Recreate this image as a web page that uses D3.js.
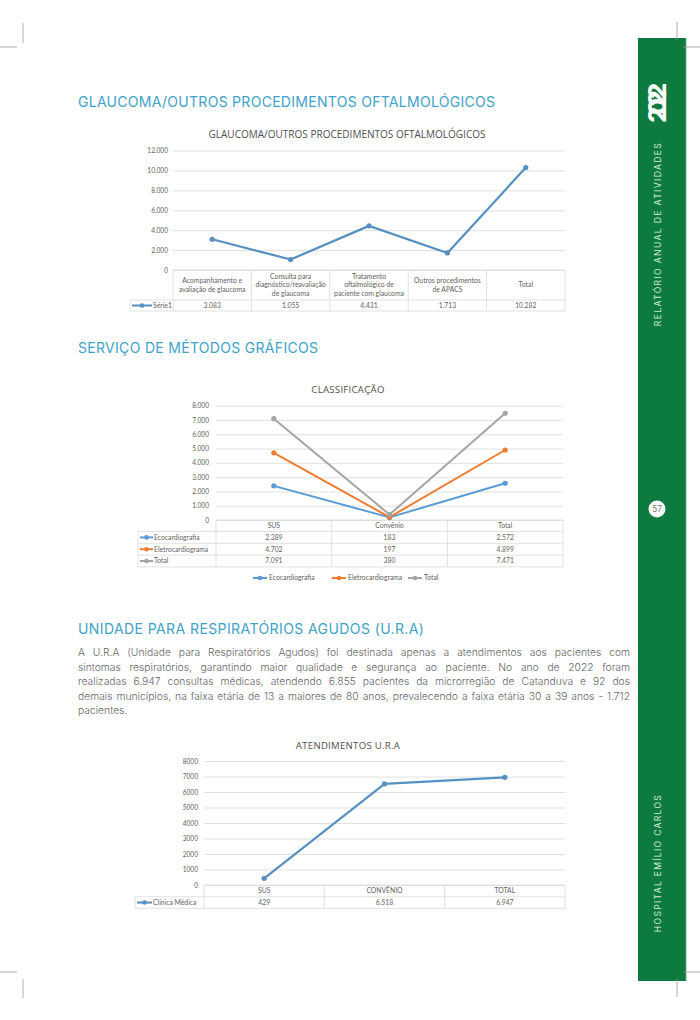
<!DOCTYPE html>
<html><head><meta charset="utf-8">
<script src="https://cdn.jsdelivr.net/npm/d3@7"></script>
<style>
html,body{margin:0;padding:0;background:#fff;}
svg{display:block;}
</style></head>
<body>
<svg id="page" width="700" height="1020"></svg>
<script>
// ---------------- DATA ----------------
const glaucomaTitle = "GLAUCOMA/OUTROS PROCEDIMENTOS OFTALMOLÓGICOS";
const glaucomaCategories = ["Acompanhamento e\navaliação de glaucoma","Consulta para\ndiagnóstico/reavaliação\nde glaucoma","Tratamento\noftalmológico de\npaciente com glaucoma","Outros procedimentos\nde APACS","Total"];
const glaucomaSeriesName = "Série1";
const glaucomaValues = [3083, 1055, 4431, 1713, 10282];
const glaucomaTicks = [0, 2000, 4000, 6000, 8000, 10000, 12000];

const classTitle = "CLASSIFICAÇÃO";
const classCategories = ["SUS", "Convênio", "Total"];
const classSeriesNames = ["Ecocardiografia", "Eletrocardiograma", "Total"];
const ecoValues = [2389, 183, 2572];
const eletroValues = [4702, 197, 4899];
const classTotalValues = [7091, 380, 7471];
const classTicks = [0, 1000, 2000, 3000, 4000, 5000, 6000, 7000, 8000];

const uraTitle = "ATENDIMENTOS U.R.A";
const uraCategories = ["SUS", "CONVÊNIO", "TOTAL"];
const uraSeriesName = "Clínica Médica";
const uraValues = [429, 6518, 6947];
const uraTicks = [0, 1000, 2000, 3000, 4000, 5000, 6000, 7000, 8000];

const headings = ["GLAUCOMA/OUTROS PROCEDIMENTOS OFTALMOLÓGICOS", "SERVIÇO DE MÉTODOS GRÁFICOS", "UNIDADE PARA RESPIRATÓRIOS AGUDOS (U.R.A)"];
const paragraphLines = [
 "A U.R.A (Unidade para Respiratórios Agudos) foi destinada apenas a atendimentos aos pacientes com",
 "sintomas respiratórios, garantindo maior qualidade e segurança ao paciente. No ano de 2022 foram",
 "realizadas 6.947 consultas médicas, atendendo 6.855 pacientes da microrregião de Catanduva e 92 dos",
 "demais municípios, na faixa etária de 13 a maiores de 80 anos, prevalecendo a faixa etária 30 a 39 anos - 1.712",
 "pacientes."
];
const sidebarYear = "2022";
const sidebarTop = "RELATÓRIO ANUAL DE ATIVIDADES";
const sidebarBottom = "HOSPITAL EMÍLIO CARLOS";
const pageNumber = "57";

// ---------------- HELPERS ----------------
const svg = d3.select("#page");
const ptBR = d3.formatLocale({decimal: ",", thousands: ".", grouping: [3], currency: ["R$", ""]});
const fmtDot = ptBR.format(",");
const fmtPlain = d3.format("d");
const CF = "Lato, 'Open Sans', sans-serif";
const TF = "'Open Sans', Lato, sans-serif";
const HF = "Inter, 'Open Sans', sans-serif";
const TXT = "#5f5f5f";
const GRID = "#d9d9d9";

function fitSpacing(sel, target) {
  const n = sel.text().length;
  const w = sel.node().getComputedTextLength();
  sel.attr("letter-spacing", ((target - w) / Math.max(n - 1, 1)).toFixed(3));
}

// ---------------- PAGE DECOR ----------------
svg.append("rect").attr("x", 638).attr("y", 38).attr("width", 48).attr("height", 943).attr("fill", "#0d7a3f");
svg.append("line").attr("x1", 686).attr("x2", 686).attr("y1", 38).attr("y2", 981).attr("stroke", "#5fae7e").attr("stroke-width", 0.8);
const yr = svg.append("text").attr("transform", "translate(666,107) rotate(-90)")
  .attr("text-anchor", "middle").attr("font-family", HF).attr("font-weight", 800)
  .attr("font-size", 25).attr("fill", "#fff").text(sidebarYear);
fitSpacing(yr, 40);
const st = svg.append("text").attr("transform", "translate(660.5,234) rotate(-90)")
  .attr("text-anchor", "middle").attr("font-family", HF).attr("font-size", 8.6)
  .attr("fill", "#d4ecd9").text(sidebarTop);
fitSpacing(st, 183);
const sb = svg.append("text").attr("transform", "translate(660.5,863) rotate(-90)")
  .attr("text-anchor", "middle").attr("font-family", HF).attr("font-size", 8.6)
  .attr("fill", "#d4ecd9").text(sidebarBottom);
fitSpacing(sb, 137);
svg.append("circle").attr("cx", 657).attr("cy", 509).attr("r", 8.5).attr("fill", "#fff");
svg.append("text").attr("x", 657).attr("y", 512).attr("text-anchor", "middle")
  .attr("font-family", HF).attr("font-size", 8.5).attr("fill", "#777").text(pageNumber);

const marks = [[23,23,23,43],[0,47,17,47],[0,972,17,972],[23,979,23,998],[677,22,677,40],[683,47,700,47],[684,972,700,972],[677,979,677,997]];
svg.selectAll("line.mark").data(marks).enter().append("line").attr("class", "mark")
  .attr("x1", d => d[0]).attr("y1", d => d[1]).attr("x2", d => d[2]).attr("y2", d => d[3])
  .attr("stroke", "#9a9a9a").attr("stroke-width", 0.8);

// headings
const headPos = [[78, 107, 417], [78, 353, 240], [78, 634, 346]];
headings.forEach((h, i) => {
  const t = svg.append("text").attr("x", headPos[i][0]).attr("y", headPos[i][1])
    .attr("font-family", HF).attr("font-size", 14).attr("fill", "#40a2c8").text(h);
  fitSpacing(t, headPos[i][2]);
});

// paragraph (justified)
const pX = 78, pW = 552, pY0 = 656, pLH = 14.5;
paragraphLines.forEach((line, i) => {
  const t = svg.append("text").attr("x", pX).attr("y", pY0 + i * pLH)
    .attr("font-family", HF).attr("font-size", 10.3).attr("font-weight", 300).attr("fill", "#666").text(line);
  if (i < paragraphLines.length - 1) {
    const w = t.node().getComputedTextLength();
    const gaps = line.split(" ").length - 1;
    t.attr("word-spacing", ((pW - w) / gaps).toFixed(3));
  }
});

// ---------------- CHART FUNCTION ----------------
function lineChart(cfg) {
  const g = svg.append("g");
  const y = d3.scaleLinear().domain([0, cfg.yMax]).range([cfg.y0, cfg.yTop]);
  const x = d3.scaleBand().domain(cfg.categories).range([cfg.x0, cfg.x1]);
  const tt = g.append("text").attr("x", cfg.titleX).attr("y", cfg.titleY).attr("text-anchor", "middle")
    .attr("font-family", TF).attr("font-weight", 400).attr("font-size", cfg.titleSize).attr("fill", "#505050").text(cfg.title);
  fitSpacing(tt, cfg.titleW);
  const ax = g.append("g").attr("transform", `translate(${cfg.x0},0)`)
    .call(d3.axisLeft(y).tickValues(cfg.ticks).tickFormat(cfg.tickFormat)
      .tickSize(-(cfg.x1 - cfg.x0)).tickPadding(cfg.x0 - cfg.labelRight));
  ax.select(".domain").remove();
  ax.selectAll(".tick line").attr("stroke", GRID).attr("stroke-width", 0.8);
  ax.selectAll(".tick text").attr("font-family", CF).attr("font-size", cfg.tickSize).attr("fill", TXT);
  const rows = cfg.series.length;
  const hb = cfg.y0 + cfg.headerH;
  const tb = hb + rows * cfg.rowH;
  const tg = g.append("g").attr("stroke", GRID).attr("stroke-width", 0.8).attr("fill", "none");
  tg.append("line").attr("x1", cfg.x0).attr("x2", cfg.x1).attr("y1", cfg.y0).attr("y2", cfg.y0);
  for (let r = 0; r <= rows; r++) {
    const yy = hb + r * cfg.rowH;
    tg.append("line").attr("x1", cfg.legendX).attr("x2", cfg.x1).attr("y1", yy).attr("y2", yy);
  }
  tg.append("line").attr("x1", cfg.legendX).attr("x2", cfg.legendX).attr("y1", hb).attr("y2", tb);
  cfg.categories.forEach(c => {
    tg.append("line").attr("x1", x(c)).attr("x2", x(c)).attr("y1", cfg.y0).attr("y2", tb);
  });
  tg.append("line").attr("x1", cfg.x1).attr("x2", cfg.x1).attr("y1", cfg.y0).attr("y2", tb);
  cfg.categories.forEach(c => {
    const lines = c.split("\n");
    const cy = cfg.y0 + cfg.headerH / 2;
    lines.forEach((ln, k) => {
      g.append("text").attr("x", x(c) + x.bandwidth() / 2)
        .attr("y", cy + (k - (lines.length - 1) / 2) * cfg.headLH).attr("dy", "0.34em")
        .attr("text-anchor", "middle").attr("font-family", CF).attr("font-size", cfg.cellSize)
        .attr("fill", TXT).text(ln);
    });
  });
  cfg.series.forEach((s, r) => {
    const cy = hb + (r + 0.5) * cfg.rowH;
    g.append("line").attr("x1", cfg.legendX + 2).attr("x2", cfg.legendX + cfg.swatchW)
      .attr("y1", cy).attr("y2", cy).attr("stroke", s.color).attr("stroke-width", 2);
    g.append("circle").attr("cx", cfg.legendX + 2 + (cfg.swatchW - 2) / 2).attr("cy", cy).attr("r", 2.3).attr("fill", s.color);
    g.append("text").attr("x", cfg.legendX + cfg.swatchW + 1).attr("y", cy).attr("dy", "0.34em")
      .attr("font-family", CF).attr("font-size", cfg.cellSize).attr("fill", TXT).text(s.name);
    s.values.forEach((v, j) => {
      const c = cfg.categories[j];
      g.append("text").attr("x", x(c) + x.bandwidth() / 2).attr("y", cy).attr("dy", "0.34em")
        .attr("text-anchor", "middle").attr("font-family", CF).attr("font-size", cfg.cellSize)
        .attr("fill", TXT).text(cfg.valueFormat(v));
    });
  });
  const lineGen = d3.line().x((d, j) => x(cfg.categories[j]) + x.bandwidth() / 2).y(d => y(d));
  cfg.series.forEach(s => {
    g.append("path").datum(s.values).attr("d", lineGen).attr("fill", "none")
      .attr("stroke", s.color).attr("stroke-width", cfg.lineW).attr("stroke-linejoin", "round");
    g.selectAll(null).data(s.values).enter().append("circle")
      .attr("cx", (d, j) => x(cfg.categories[j]) + x.bandwidth() / 2).attr("cy", d => y(d))
      .attr("r", 2.6).attr("fill", s.color);
  });
  return {g, x, y};
}

// ---------------- CHARTS ----------------
lineChart({
  title: glaucomaTitle, titleX: 347, titleY: 138, titleSize: 10, titleW: 277,
  categories: glaucomaCategories, yMax: 12000, ticks: glaucomaTicks, tickFormat: fmtDot, valueFormat: fmtDot,
  x0: 173, x1: 565, y0: 270, yTop: 150.5, labelRight: 168, tickSize: 6.6,
  headerH: 30, rowH: 11, headLH: 8.8, cellSize: 6.8, legendX: 130, swatchW: 22, lineW: 2.2,
  series: [{name: glaucomaSeriesName, values: glaucomaValues, color: "#5690c0"}]
});

lineChart({
  title: classTitle, titleX: 348, titleY: 393, titleSize: 9.6, titleW: 73,
  categories: classCategories, yMax: 8000, ticks: classTicks, tickFormat: fmtDot, valueFormat: fmtDot,
  x0: 216, x1: 563, y0: 520, yTop: 405.7, labelRight: 209, tickSize: 6.6,
  headerH: 11.5, rowH: 11.8, headLH: 8, cellSize: 6.8, legendX: 138, swatchW: 15, lineW: 2,
  series: [
    {name: classSeriesNames[0], values: ecoValues, color: "#5b9bd5"},
    {name: classSeriesNames[1], values: eletroValues, color: "#ed7d31"},
    {name: classSeriesNames[2], values: classTotalValues, color: "#a5a5a5"}
  ]
});
const legColors = ["#5b9bd5", "#ed7d31", "#a5a5a5"];
const legX = [253, 332, 408];
classSeriesNames.forEach((n, i) => {
  const ly = 578;
  svg.append("line").attr("x1", legX[i]).attr("x2", legX[i] + 14).attr("y1", ly).attr("y2", ly)
    .attr("stroke", legColors[i]).attr("stroke-width", 2);
  svg.append("circle").attr("cx", legX[i] + 7).attr("cy", ly).attr("r", 2.3).attr("fill", legColors[i]);
  svg.append("text").attr("x", legX[i] + 16).attr("y", ly).attr("dy", "0.34em")
    .attr("font-family", CF).attr("font-size", 6.8).attr("fill", TXT).text(n);
});

lineChart({
  title: uraTitle, titleX: 348, titleY: 748.5, titleSize: 9.6, titleW: 104,
  categories: uraCategories, yMax: 8000, ticks: uraTicks, tickFormat: fmtPlain, valueFormat: fmtDot,
  x0: 204, x1: 565, y0: 885, yTop: 761, labelRight: 198, tickSize: 6.6,
  headerH: 11.8, rowH: 11.5, headLH: 8, cellSize: 6.8, legendX: 135, swatchW: 17, lineW: 2.2,
  series: [{name: uraSeriesName, values: uraValues, color: "#5690c0"}]
});
</script>
</body></html>
